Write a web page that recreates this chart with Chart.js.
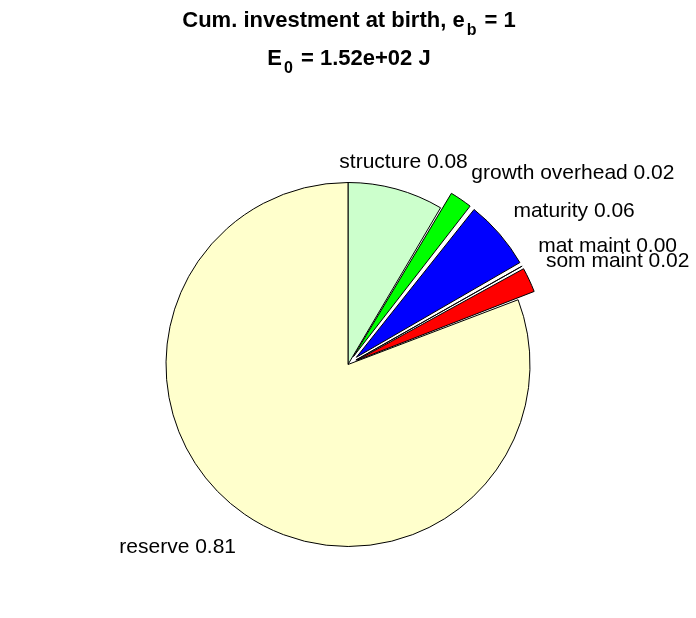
<!DOCTYPE html>
<html>
<head>
<meta charset="utf-8">
<script src="https://cdn.jsdelivr.net/npm/chart.js@4/dist/chart.umd.min.js"></script>
<style>
    html, body { margin: 0; padding: 0; background: #fff; }
    #pie { display: block; }
</style>
</head>
<body>
<canvas id="pie" width="696" height="618"></canvas>
<script>
// Slice data, clockwise from 12 o'clock
const categories = ["structure", "growth overhead", "maturity", "mat maint", "som maint", "reserve"];
const fractions = [0.0849, 0.0212, 0.0613, 0.0015, 0.0232, 0.8079];
const exploded = [false, true, true, true, true, false];
const sliceColors = ["#CCFFCC", "#00FF00", "#0000FF", "#800080", "#FF0000", "#FFFFCC"];

const titleLines = [
    [["Cum. investment at birth, e", false], ["b", true], [" = 1", false]],
    [["E", false], ["0", true], [" = 1.52e+02 J", false]],
];

document.addEventListener("DOMContentLoaded", () => {
    const labelFont = '21px "Liberation Sans", Arial, sans-serif';
    const explodePx = 18;

    // chart.js moves an offset arc by offset/4 * (2 - sin(circumference)), undo that
    function arcOffset(i) {
        if (!exploded[i]) return 0;
        const circ = fractions[i] * 2 * Math.PI;
        return explodePx * 4 / (2 - Math.sin(Math.min(Math.PI, circ)));
    }

    const titlePlugin = {
        id: "subTitle",
        afterDraw(chart) {
            const ctx = chart.ctx;
            const mainFont = 'bold 22px "Liberation Sans", Arial, sans-serif';
            const subFont = 'bold 16px "Liberation Sans", Arial, sans-serif';
            const baselines = [27, 65];
            ctx.save();
            ctx.fillStyle = "#000";
            ctx.textBaseline = "alphabetic";
            ctx.textAlign = "left";
            titleLines.forEach((parts, li) => {
                let total = 0;
                parts.forEach(([txt, sub]) => {
                    ctx.font = sub ? subFont : mainFont;
                    total += ctx.measureText(txt).width + (sub ? 4 : 0);
                });
                let x = 349 - total / 2;
                parts.forEach(([txt, sub]) => {
                    ctx.font = sub ? subFont : mainFont;
                    if (sub) x += 2;
                    ctx.fillText(txt, x, baselines[li] + (sub ? 8 : 0));
                    x += ctx.measureText(txt).width + (sub ? 2 : 0);
                });
            });
            ctx.restore();
        },
    };

    const labelPlugin = {
        id: "sliceLabels",
        afterDatasetsDraw(chart) {
            const ctx = chart.ctx;
            const meta = chart.getDatasetMeta(0);
            ctx.save();
            ctx.font = labelFont;
            ctx.fillStyle = "#000";
            ctx.textBaseline = "alphabetic";
            meta.data.forEach((arc, i) => {
                const { x, y, startAngle, endAngle, outerRadius } = arc.getProps(
                    ["x", "y", "startAngle", "endAngle", "outerRadius"], true);
                const mid = (startAngle + endAngle) / 2;
                const ax = x + Math.cos(mid) * outerRadius * 1.2;
                const ay = y + Math.sin(mid) * outerRadius * 1.2;
                const text = `${categories[i]} ${fractions[i].toFixed(2)}`;
                const c = Math.cos(mid);
                if (c > 0.3) {
                    ctx.textAlign = "left";
                    ctx.fillText(text, ax, ay - 5);
                } else if (c < -0.3) {
                    ctx.textAlign = "right";
                    ctx.fillText(text, ax + 12, ay + 9);
                } else {
                    ctx.textAlign = "center";
                    ctx.fillText(text, ax - 2, ay + 14);
                }
            });
            ctx.restore();
        },
    };

    const ctx = document.getElementById("pie").getContext("2d");
    new Chart(ctx, {
        type: "pie",
        data: {
            labels: categories,
            datasets: [
                {
                    label: "Cum. investment at birth",
                    data: fractions,
                    backgroundColor: sliceColors,
                    borderColor: "#000",
                    borderWidth: 1,
                    offset: (c) => arcOffset(c.dataIndex),
                    hoverOffset: 0,
                },
            ],
        },
        options: {
            responsive: false,
            animation: false,
            events: [],
            radius: 182,
            layout: { padding: { top: 172, bottom: 61, left: 0, right: 0 } },
            plugins: {
                legend: { display: false },
                title: { display: false },
                tooltip: { enabled: false },
            },
        },
        plugins: [labelPlugin, titlePlugin],
    });
});
</script>
</body>
</html>
